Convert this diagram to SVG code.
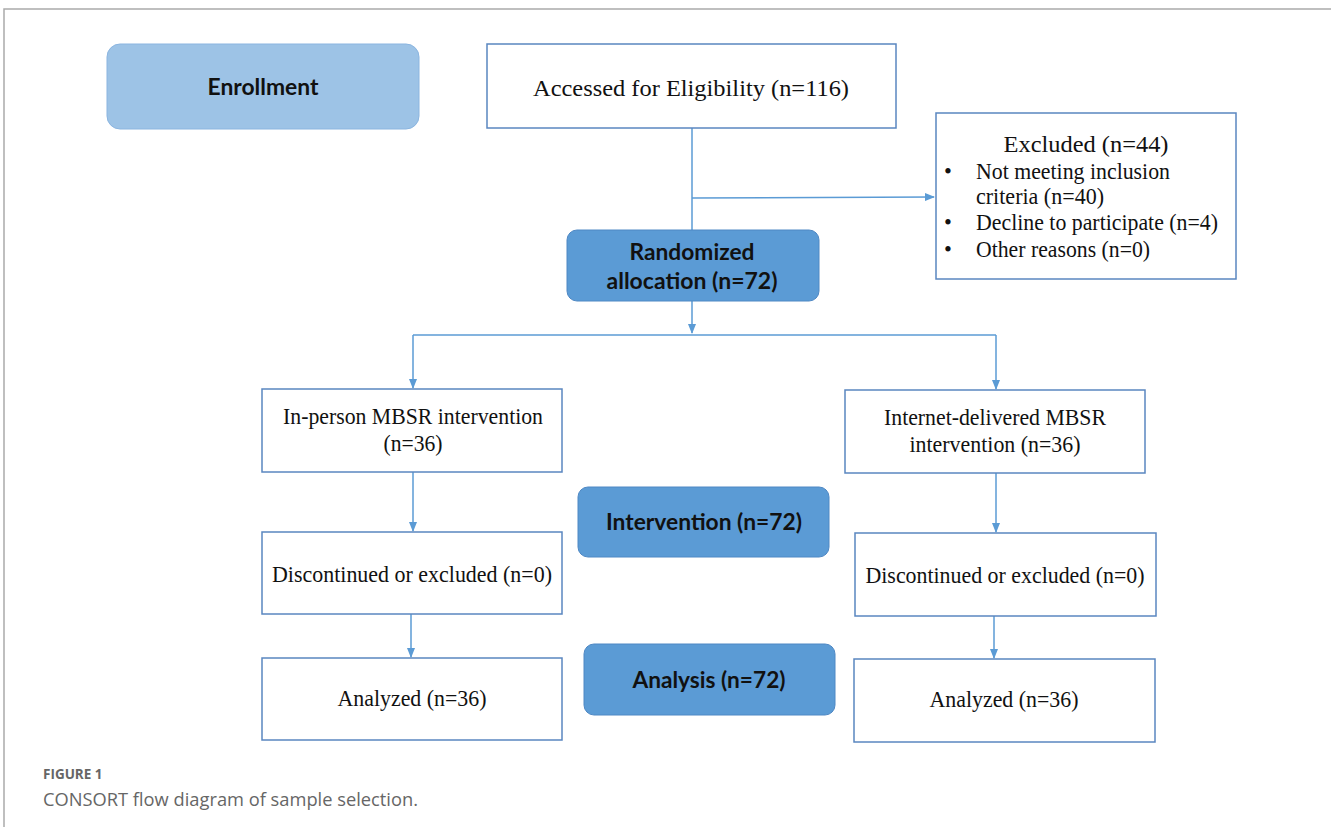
<svg xmlns="http://www.w3.org/2000/svg" width="1331" height="827" viewBox="0 0 1331 827">
<defs>
<marker id="arr" markerWidth="10" markerHeight="8" refX="9" refY="4" orient="auto" markerUnits="userSpaceOnUse">
<path d="M0,0 L10,4 L0,8 z" fill="#5b9bd5"/>
</marker>
<style>
.box{fill:#ffffff;stroke:#5a86c0;stroke-width:1.5}
.stage{fill:#5b9bd5;stroke:#4f88c4;stroke-width:1}
.enr{fill:#9dc3e6;stroke:#8bb5e0;stroke-width:1}
.t{font-family:"Liberation Serif","Times New Roman",serif;font-size:23px;fill:#111;text-anchor:middle}
.tl{font-family:"Liberation Serif","Times New Roman",serif;font-size:22.5px;fill:#111}
.b{font-family:Lato,"Liberation Sans",sans-serif;font-weight:bold;font-size:22px;fill:#111;text-anchor:middle}
.c{fill:none;stroke:#5b9bd5;stroke-width:1.5}
.cap{font-family:"Open Sans","Liberation Sans",sans-serif;fill:#666}
</style>
</defs>
<rect x="0" y="0" width="1331" height="827" fill="#ffffff"/>
<path d="M4,827 L4,9 L1331,9" fill="none" stroke="#aaaaaa" stroke-width="1.5"/>

<g id="connectors">
<line class="c" x1="692" y1="128" x2="692" y2="230"/>
<line class="c" x1="692" y1="198" x2="934" y2="197" marker-end="url(#arr)"/>
<line class="c" x1="692" y1="301" x2="692" y2="333" marker-end="url(#arr)"/>
<line class="c" x1="413" y1="335" x2="996" y2="335"/>
<line class="c" x1="413" y1="335" x2="413" y2="388" marker-end="url(#arr)"/>
<line class="c" x1="996" y1="335" x2="996" y2="389" marker-end="url(#arr)"/>
<line class="c" x1="413" y1="472" x2="413" y2="531" marker-end="url(#arr)"/>
<line class="c" x1="996" y1="473" x2="996" y2="532" marker-end="url(#arr)"/>
<line class="c" x1="411" y1="614" x2="411" y2="657" marker-end="url(#arr)"/>
<line class="c" x1="994" y1="616" x2="994" y2="658" marker-end="url(#arr)"/>
</g>

<g id="enrollment">
<rect class="enr" x="107" y="44" width="312" height="85" rx="13"/>
<text class="b" x="263" y="95" textLength="111" lengthAdjust="spacingAndGlyphs">Enrollment</text>
</g>

<g id="accessed">
<rect class="box" x="487" y="44" width="409" height="84"/>
<text class="t" x="691" y="96" font-size="24" textLength="316" lengthAdjust="spacingAndGlyphs">Accessed for Eligibility (n=116)</text>
</g>

<g id="excluded">
<rect class="box" x="936" y="113" width="300" height="166"/>
<text class="t" x="1086" y="152" font-size="24" textLength="165" lengthAdjust="spacingAndGlyphs">Excluded (n=44)</text>
<text class="tl" x="944" y="179">•</text>
<text class="tl" x="976" y="179" textLength="194" lengthAdjust="spacingAndGlyphs">Not meeting inclusion</text>
<text class="tl" x="976" y="204" textLength="128" lengthAdjust="spacingAndGlyphs">criteria (n=40)</text>
<text class="tl" x="944" y="230">•</text>
<text class="tl" x="976" y="230" textLength="242" lengthAdjust="spacingAndGlyphs">Decline to participate (n=4)</text>
<text class="tl" x="944" y="257">•</text>
<text class="tl" x="976" y="257" textLength="174" lengthAdjust="spacingAndGlyphs">Other reasons (n=0)</text>
</g>

<g id="randomized">
<rect class="stage" x="567" y="230" width="252" height="71" rx="10"/>
<text class="b" x="692" y="260" textLength="125" lengthAdjust="spacingAndGlyphs">Randomized</text>
<text class="b" x="692" y="289" textLength="171" lengthAdjust="spacingAndGlyphs">allocation (n=72)</text>
</g>

<g id="inperson">
<rect class="box" x="262" y="389" width="300" height="83"/>
<text class="t" x="413" y="424" textLength="260" lengthAdjust="spacingAndGlyphs">In-person MBSR intervention</text>
<text class="t" x="413" y="451" textLength="59" lengthAdjust="spacingAndGlyphs">(n=36)</text>
</g>

<g id="internet">
<rect class="box" x="845" y="390" width="300" height="83"/>
<text class="t" x="995" y="425" textLength="222" lengthAdjust="spacingAndGlyphs">Internet-delivered MBSR</text>
<text class="t" x="995" y="452" textLength="171" lengthAdjust="spacingAndGlyphs">intervention (n=36)</text>
</g>

<g id="intervention">
<rect class="stage" x="578" y="487" width="251" height="70" rx="10"/>
<text class="b" x="704" y="530" textLength="196" lengthAdjust="spacingAndGlyphs">Intervention (n=72)</text>
</g>

<g id="disc-left">
<rect class="box" x="262" y="532" width="300" height="82"/>
<text class="t" x="412" y="582" textLength="280" lengthAdjust="spacingAndGlyphs">Discontinued or excluded (n=0)</text>
</g>

<g id="disc-right">
<rect class="box" x="855" y="533" width="301" height="83"/>
<text class="t" x="1005" y="583" textLength="279" lengthAdjust="spacingAndGlyphs">Discontinued or excluded (n=0)</text>
</g>

<g id="analysis">
<rect class="stage" x="584" y="644" width="251" height="71" rx="10"/>
<text class="b" x="709" y="688" textLength="153" lengthAdjust="spacingAndGlyphs">Analysis (n=72)</text>
</g>

<g id="analyzed-left">
<rect class="box" x="262" y="658" width="300" height="82"/>
<text class="t" x="412" y="706" textLength="149" lengthAdjust="spacingAndGlyphs">Analyzed (n=36)</text>
</g>

<g id="analyzed-right">
<rect class="box" x="854" y="659" width="301" height="83"/>
<text class="t" x="1004" y="707" textLength="149" lengthAdjust="spacingAndGlyphs">Analyzed (n=36)</text>
</g>

<g id="caption">
<text class="cap" x="43" y="779" font-size="13.5" font-weight="bold">FIGURE 1</text>
<text class="cap" x="43" y="806" font-size="18.3">CONSORT flow diagram of sample selection.</text>
</g>
</svg>
